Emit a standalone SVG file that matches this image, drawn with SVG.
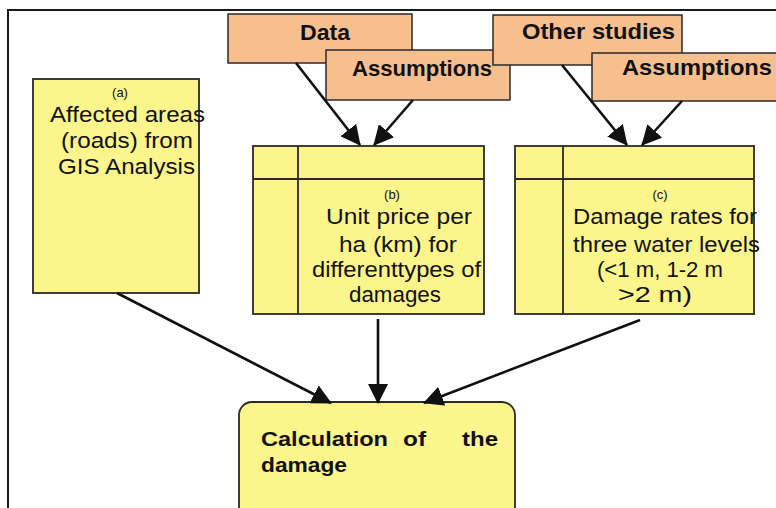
<svg xmlns="http://www.w3.org/2000/svg" width="776" height="508" viewBox="0 0 776 508">
<style>
  .org{fill:#F7BE8E;stroke:#2a2a2a;stroke-width:1.5}
  .yel{fill:#FCF58C;stroke:#2a2a2a;stroke-width:1.8}
  .div{stroke:#2a2a2a;stroke-width:1.8;fill:none}
  .hd{font-family:"Liberation Sans",Arial,sans-serif;font-weight:bold;font-size:22px;fill:#111}
  .tx{font-family:"Liberation Sans",Arial,sans-serif;font-size:22px;fill:#111}
  .sm{font-family:"Liberation Sans",Arial,sans-serif;font-size:13px;fill:#111}
  .cb{font-family:"Liberation Sans",Arial,sans-serif;font-weight:bold;font-size:21px;fill:#111}
  .con{stroke:#111;stroke-width:2.6;fill:none;marker-end:url(#ah)}
</style>
<defs>
  <marker id="ah" viewBox="0 0 20 20" refX="19" refY="10" markerWidth="20" markerHeight="20" markerUnits="userSpaceOnUse" orient="auto">
    <path d="M0,0 L20,10 L0,20 Z" fill="#111"/>
  </marker>
</defs>
<rect width="776" height="508" fill="#fff"/>
<path d="M8,508 V10 H776" fill="none" stroke="#1a1a1a" stroke-width="2"/>

<g id="node-a">
  <rect class="yel" x="33" y="79" width="166" height="214"/>
  <text class="sm" x="120" y="97" text-anchor="middle">(a)</text>
  <text class="tx" x="50" y="122" textLength="155" lengthAdjust="spacingAndGlyphs">Affected areas</text>
  <text class="tx" x="61" y="148" textLength="132" lengthAdjust="spacingAndGlyphs">(roads) from</text>
  <text class="tx" x="58" y="174" textLength="137" lengthAdjust="spacingAndGlyphs">GIS Analysis</text>
</g>

<g id="node-data">
  <rect class="org" x="228" y="14" width="184" height="49"/>
  <text class="hd" x="300" y="40" textLength="50" lengthAdjust="spacingAndGlyphs">Data</text>
</g>
<g id="node-assumptions1">
  <rect class="org" x="326" y="50" width="184" height="50"/>
  <text class="hd" x="352" y="76" textLength="140" lengthAdjust="spacingAndGlyphs">Assumptions</text>
</g>
<g id="node-other">
  <rect class="org" x="493" y="15" width="189" height="50"/>
  <text class="hd" x="522" y="39" textLength="153" lengthAdjust="spacingAndGlyphs">Other studies</text>
</g>
<g id="node-assumptions2">
  <rect class="org" x="592" y="53" width="200" height="48"/>
  <text class="hd" x="622" y="75" textLength="150" lengthAdjust="spacingAndGlyphs">Assumptions</text>
</g>

<g id="node-b">
  <rect class="yel" x="253" y="146" width="231" height="168"/>
  <path class="div" d="M298,146 V314 M253,179 H484"/>
  <text class="sm" x="392" y="199" text-anchor="middle">(b)</text>
  <text class="tx" x="326" y="224" textLength="146" lengthAdjust="spacingAndGlyphs">Unit price per</text>
  <text class="tx" x="339" y="252" textLength="118" lengthAdjust="spacingAndGlyphs">ha (km) for</text>
  <text class="tx" x="312" y="277" textLength="169" lengthAdjust="spacingAndGlyphs">differenttypes of</text>
  <text class="tx" x="349" y="302" textLength="92" lengthAdjust="spacingAndGlyphs">damages</text>
</g>

<g id="node-c">
  <rect class="yel" x="515" y="146" width="239" height="168"/>
  <path class="div" d="M563,146 V314 M515,179 H754"/>
  <text class="sm" x="660" y="199" text-anchor="middle">(c)</text>
  <text class="tx" x="573" y="224" textLength="184" lengthAdjust="spacingAndGlyphs">Damage rates for</text>
  <text class="tx" x="573" y="252" textLength="187" lengthAdjust="spacingAndGlyphs">three water levels</text>
  <text class="tx" x="597" y="277" textLength="126" lengthAdjust="spacingAndGlyphs">(&lt;1 m, 1-2 m</text>
  <text class="tx" x="618" y="302" textLength="74" lengthAdjust="spacingAndGlyphs">&gt;2 m)</text>
</g>

<g id="node-calc">
  <rect class="yel" x="239" y="402" width="276" height="125" rx="13"/>
  <text class="cb" x="261" y="446" textLength="127" lengthAdjust="spacingAndGlyphs">Calculation</text>
  <text class="cb" x="403" y="446" textLength="23" lengthAdjust="spacingAndGlyphs">of</text>
  <text class="cb" x="462" y="446" textLength="36" lengthAdjust="spacingAndGlyphs">the</text>
  <text class="cb" x="261" y="472" textLength="86" lengthAdjust="spacingAndGlyphs">damage</text>
</g>

<g id="connectors">
  <line class="con" x1="296" y1="63" x2="360" y2="145"/>
  <line class="con" x1="413" y1="100" x2="374" y2="145"/>
  <line class="con" x1="562" y1="65" x2="627" y2="145"/>
  <line class="con" x1="682" y1="101" x2="642" y2="145"/>
  <line class="con" x1="117" y1="293" x2="331" y2="403"/>
  <line class="con" x1="378" y1="319" x2="378" y2="403"/>
  <line class="con" x1="640" y1="320" x2="424" y2="403"/>
</g>
</svg>
